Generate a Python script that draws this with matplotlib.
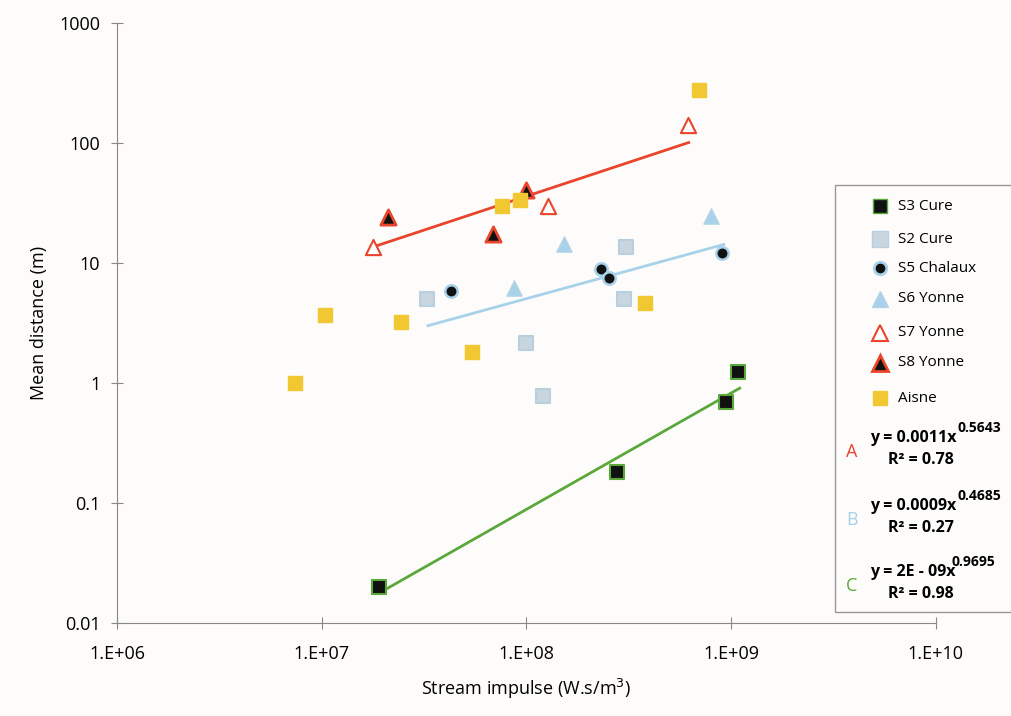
import numpy as np
import matplotlib.pyplot as plt
from matplotlib.patches import Rectangle
from matplotlib.lines import Line2D

plt.rcParams['font.family'] = ['Open Sans', 'DejaVu Sans']

s3_x = [1.9e7, 2.77e8, 9.4e8, 1.08e9]
s3_y = [0.02, 0.18, 0.7, 1.24]
s2_x = [3.27e7, 1.0e8, 1.2e8, 3.06e8, 3.0e8]
s2_y = [5.0, 2.15, 0.78, 13.6, 5.0]
s5_x = [4.3e7, 2.31e8, 2.53e8, 9.0e8]
s5_y = [5.8, 8.9, 7.5, 12.1]
s6_x = [8.7e7, 1.52e8, 7.96e8]
s6_y = [6.2, 14.4, 24.6]
s7_x = [1.78e7, 1.27e8, 6.15e8]
s7_y = [13.6, 30, 141]
s8_x = [2.1e7, 6.9e7, 1.0e8]
s8_y = [24, 17.4, 40.5]
aisne_x = [7.4e6, 1.04e7, 2.44e7, 5.4e7, 7.6e7, 9.3e7, 3.8e8, 6.95e8]
aisne_y = [1.0, 3.7, 3.2, 1.8, 29.9, 33.5, 4.6, 277]

# power-law trend lines as drawn: coefficient, exponent, x range
fitA = (0.0011, 0.5643, 1.78e7, 6.2e8)
fitB = (0.0009, 0.4685, 3.3e7, 9.2e8)
fitC = (1.55e-9, 0.9695, 1.9e7, 1.1e9)

red = "#e8452c"
lblue = "#a8d2ea"
green = "#5aa83c"
yellow = "#f2c832"
gray_sq = "#c9d6e0"

fig = plt.figure(figsize=(10.11, 7.16), dpi=100)
fig.patch.set_facecolor("#fdfcfa")
ax = fig.add_axes([0.1157, 0.13, 0.81, 0.838])
ax.set_facecolor("#fdfcfa")
ax.set_xscale("log")
ax.set_yscale("log")
ax.set_xlim(1e6, 1e10)
ax.set_ylim(0.01, 1000)

for (a, b, x0, x1), c in [(fitA, red), (fitB, lblue), (fitC, green)]:
    xx = np.array([x0, x1])
    ax.plot(xx, a * xx ** b, color=c, lw=2, zorder=1)

ax.scatter(s3_x, s3_y, marker="s", s=90, c="#111111", edgecolors=green, linewidths=1.5, zorder=3)
ax.scatter(s2_x, s2_y, marker="s", s=110, c=gray_sq, edgecolors="#b8cfe0", linewidths=1.5, zorder=3)
ax.scatter(s5_x, s5_y, marker="o", s=80, c="#111111", edgecolors=lblue, linewidths=1.8, zorder=3)
ax.scatter(s6_x, s6_y, marker="^", s=120, c=lblue, edgecolors="#b5d3e6", linewidths=1, zorder=3)
ax.scatter(s7_x, s7_y, marker="^", s=120, c="white", edgecolors=red, linewidths=1.5, zorder=3)
ax.scatter(s8_x, s8_y, marker="^", s=120, c="#111111", edgecolors=red, linewidths=2, zorder=3)
ax.scatter(aisne_x, aisne_y, marker="s", s=90, c=yellow, edgecolors=yellow, zorder=3)

for sp in ["top", "right"]:
    ax.spines[sp].set_visible(False)
for sp in ["left", "bottom"]:
    ax.spines[sp].set_color("#888888")
ax.set_xticks([1e6, 1e7, 1e8, 1e9, 1e10])
ax.set_xticklabels(["1.E+06", "1.E+07", "1.E+08", "1.E+09", "1.E+10"])
ax.set_yticks([0.01, 0.1, 1, 10, 100, 1000])
ax.set_yticklabels(["0.01", "0.1", "1", "10", "100", "1000"])
ax.minorticks_off()
ax.tick_params(axis="both", labelsize=13, direction="inout", length=8, color="#888888", pad=12)
ax.tick_params(axis="y", pad=8)
ax.set_xlabel("Stream impulse (W.s/m$^3$)", fontsize=13, labelpad=10)
ax.set_ylabel("Mean distance (m)", fontsize=13, labelpad=8)

# legend box
fig.patches.append(Rectangle((835 / 1011, 1 - 612 / 716), 0.2, 427 / 716, transform=fig.transFigure,
                             facecolor="#fdfcfa", edgecolor="#999999", lw=1, zorder=5))
items = [
    ("S3 Cure", dict(marker="s", mfc="#111111", mec=green, ms=10)),
    ("S2 Cure", dict(marker="s", mfc=gray_sq, mec="#b8cfe0", ms=11)),
    ("S5 Chalaux", dict(marker="o", mfc="#111111", mec=lblue, ms=9, mew=2)),
    ("S6 Yonne", dict(marker="^", mfc=lblue, mec="#b5d3e6", ms=11)),
    ("S7 Yonne", dict(marker="^", mfc="white", mec=red, ms=11, mew=1.5)),
    ("S8 Yonne", dict(marker="^", mfc="#111111", mec=red, ms=11, mew=2)),
    ("Aisne", dict(marker="s", mfc=yellow, mec=yellow, ms=10)),
]
ys = [206, 239, 268, 299, 333, 363, 398]
for (lab, kw), py in zip(items, ys):
    yf = 1 - py / 716
    fig.add_artist(Line2D([880 / 1011], [yf], transform=fig.transFigure, ls="none", zorder=6, **kw))
    fig.text(898 / 1011, yf, lab, fontsize=11, va="center", zorder=6)

eqs = [("A", red, "0.0011", "0.5643", "0.78", 452),
       ("B", lblue, "0.0009", "0.4685", "0.27", 520),
       ("C", green, "2E - 09", "0.9695", "0.98", 586)]
for letter, c, a, b, r2, py in eqs:
    fig.text(846 / 1011, 1 - py / 716, letter, color=c, fontsize=13, va="center", zorder=6)
    fig.text(870 / 1011, 1 - (py - 14) / 716, "y = %sx" % a, fontsize=11.5,
             fontweight="bold", va="center", zorder=6)
    fig.text(958 / 1011 if letter != "C" else 952 / 1011, 1 - (py - 24) / 716, b, fontsize=10,
             fontweight="bold", va="center", zorder=6)
    fig.text(888 / 1011, 1 - (py + 8) / 716, "R² = %s" % r2, fontsize=11.5,
             fontweight="bold", va="center", zorder=6)

fig.savefig("out.png", dpi=100, facecolor=fig.get_facecolor())
